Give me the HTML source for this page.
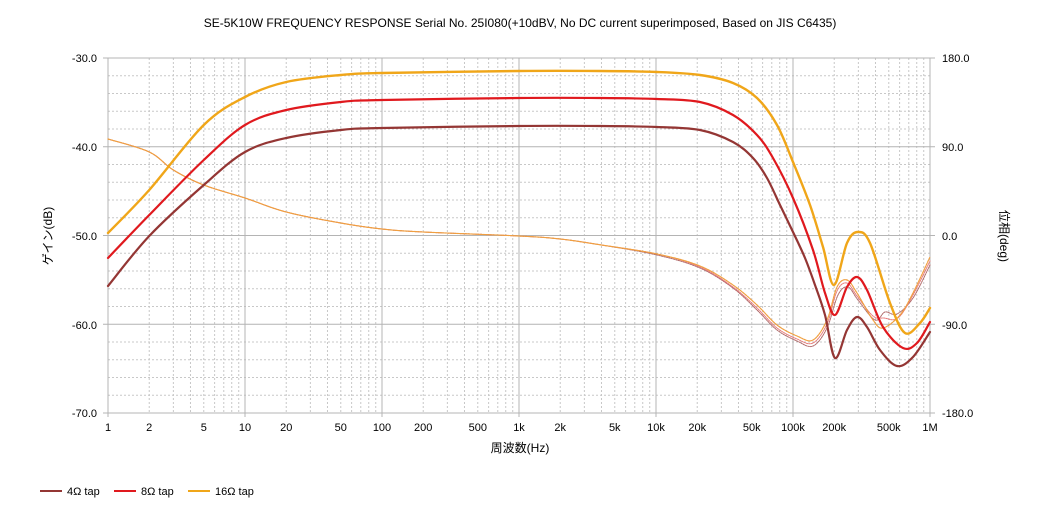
<!DOCTYPE html>
<html><head><meta charset="utf-8">
<style>
html,body{margin:0;padding:0;background:#fff;}
svg{display:block;font-family:"Liberation Sans","Noto Sans CJK JP",sans-serif;}
</style></head>
<body>
<svg id="s" width="1040" height="520" viewBox="0 0 1040 520" xmlns="http://www.w3.org/2000/svg">
<rect width="1040" height="520" fill="#fff"/>
<text x="520" y="27" font-size="12" text-anchor="middle" fill="#000">SE-5K10W FREQUENCY RESPONSE Serial No. 25I080(+10dBV,  No DC current superimposed,  Based on JIS C6435)</text>
<g id="grid"></g>
<g id="curves" fill="none" stroke-linejoin="round" stroke-linecap="round"></g>
<g font-size="11" fill="#000">
<text x="97" y="62" text-anchor="end">-30.0</text>
<text x="97" y="151" text-anchor="end">-40.0</text>
<text x="97" y="240" text-anchor="end">-50.0</text>
<text x="97" y="329" text-anchor="end">-60.0</text>
<text x="97" y="417" text-anchor="end">-70.0</text>
<text x="942" y="62">180.0</text>
<text x="942" y="151">90.0</text>
<text x="942" y="240">0.0</text>
<text x="942" y="329">-90.0</text>
<text x="942" y="417">-180.0</text>
</g>
<g id="xl" font-size="11" fill="#000" text-anchor="middle"></g>
<text x="520" y="452" font-size="12" text-anchor="middle">周波数(Hz)</text>
<text transform="translate(52,236) rotate(-90)" font-size="12" text-anchor="middle">ゲイン(dB)</text>
<text transform="translate(1000,236) rotate(90)" font-size="12" text-anchor="middle">位相(deg)</text>
<g font-size="11">
<line x1="40" y1="491" x2="62" y2="491" stroke="#943634" stroke-width="2"/>
<text x="67" y="495">4Ω tap</text>
<line x1="114" y1="491" x2="136" y2="491" stroke="#e0191e" stroke-width="2"/>
<text x="141" y="495">8Ω tap</text>
<line x1="188" y1="491" x2="210" y2="491" stroke="#f0a619" stroke-width="2"/>
<text x="215" y="495">16Ω tap</text>
</g>
</svg>
<script>
var NS="http://www.w3.org/2000/svg";
var L=108,R=930,T=58,B=413,D=137;
function el(p,n,a){var e=document.createElementNS(NS,n);for(var k in a)e.setAttribute(k,a[k]);p.appendChild(e);return e;}
var g=document.getElementById('grid');
for(var i=1;i<20;i++){if(i%5==0)continue;var y=T+i*(B-T)/20;el(g,'line',{x1:L,x2:R,y1:y,y2:y,stroke:'#c8c8c8','stroke-dasharray':'2,2','stroke-width':1});}
for(var d=0;d<6;d++)for(var m=2;m<10;m++){var x=L+D*(d+Math.log10(m));el(g,'line',{x1:x,x2:x,y1:T,y2:B,stroke:'#c8c8c8','stroke-dasharray':'2,2','stroke-width':1});}
for(var i=0;i<=4;i++){var y=T+i*(B-T)/4;el(g,'line',{x1:L-5,x2:R+5,y1:y,y2:y,stroke:'#b4b4b4','stroke-width':1});}
for(var d=0;d<=6;d++){var x=L+D*d;el(g,'line',{x1:x,x2:x,y1:T,y2:B+4,stroke:'#b4b4b4','stroke-width':1});}
var xl=document.getElementById('xl');
[[1,'1'],[2,'2'],[5,'5'],[10,'10'],[20,'20'],[50,'50'],[100,'100'],[200,'200'],[500,'500'],[1e3,'1k'],[2e3,'2k'],[5e3,'5k'],[1e4,'10k'],[2e4,'20k'],[5e4,'50k'],[1e5,'100k'],[2e5,'200k'],[5e5,'500k'],[1e6,'1M']].forEach(function(t){var e=el(xl,'text',{x:L+D*Math.log10(t[0]),y:431});e.textContent=t[1];});
function X(f){return L+D*Math.log10(f);}
function path(pts){var s='M'+pts[0][0]+','+pts[0][1];for(var i=0;i<pts.length-1;i++){var p0=pts[i-1]||pts[i],p1=pts[i],p2=pts[i+1],p3=pts[i+2]||p2;var t=6;s+=' C'+(p1[0]+(p2[0]-p0[0])/t)+','+(p1[1]+(p2[1]-p0[1])/t)+' '+(p2[0]-(p3[0]-p1[0])/t)+','+(p2[1]-(p3[1]-p1[1])/t)+' '+p2[0]+','+p2[1];}return s;}
function fp(arr){return arr.map(function(a){return [X(a[0]),a[1]];});}
var c=document.getElementById('curves');
var head=fp([[1,139],[2,152],[3,170],[5,185],[10,198],[20,212],[50,223],[100,229],[200,232],[1000,236],[2000,239],[4000,245]]);
var ph1=head.concat([[657,254],[700,266],[733,285],[757,305],[777,325],[797,336],[813,340],[827,320],[837,287],[847,280],[857,293],[873,320],[883,328],[900,315],[913,293],[930,257]]);
var ph2=head.concat([[657,255],[700,268],[733,288],[757,310],[777,330],[797,341],[813,346],[827,328],[838,295],[848,287],[858,300],[875,320],[885,312],[897,314],[913,298],[930,265]]);
var ph3=head.concat([[657,254],[700,267],[733,287],[757,308],[777,328],[797,339],[813,343],[827,324],[837,291],[847,283],[857,296],[873,316],[884,318],[898,318],[913,295],[930,261]]);
el(c,'path',{d:path(ph2),stroke:'#b06a6a','stroke-width':1,'stroke-dasharray':'1.5,1'});
el(c,'path',{d:path(ph3),stroke:'#e87a7a','stroke-width':1,'stroke-dasharray':'1.5,1'});
el(c,'path',{d:path(ph1),stroke:'#f0a040','stroke-width':1.2,'stroke-dasharray':'2,1'});
var br=fp([[1,286],[2,236],[5,185],[10,152],[20,138],[50,130],[100,128],[1000,126]]).concat([[600,126],[657,127],[700,130],[733,142],[753,158],[767,178],[780,205],[793,232],[805,258],[815,285],[825,315],[835,358],[847,330],[857,317],[867,327],[880,350],[897,366],[913,357],[930,332]]);
var rd=fp([[1,258],[2,215],[5,160],[10,125],[20,110],[50,102],[100,100],[1000,98]]).concat([[600,98],[657,99],[700,102],[733,115],[757,135],[773,158],[793,198],[813,250],[825,293],[835,315],[847,287],[857,277],[867,290],[883,327],[903,348],[917,343],[930,322]]);
var og=fp([[1,233],[2,190],[5,125],[10,97],[20,82],[50,75],[100,73],[1000,71]]).concat([[600,71],[657,72],[700,75],[733,83],[757,98],[777,125],[793,162],[810,205],[823,247],[834,285],[847,243],[858,232],[870,243],[890,303],[905,333],[920,323],[930,308]]);
el(c,'path',{d:path(br),stroke:'#943634','stroke-width':2.2});
el(c,'path',{d:path(rd),stroke:'#e0191e','stroke-width':2.2});
el(c,'path',{d:path(og),stroke:'#f0a619','stroke-width':2.4});
</script>
</body></html>
